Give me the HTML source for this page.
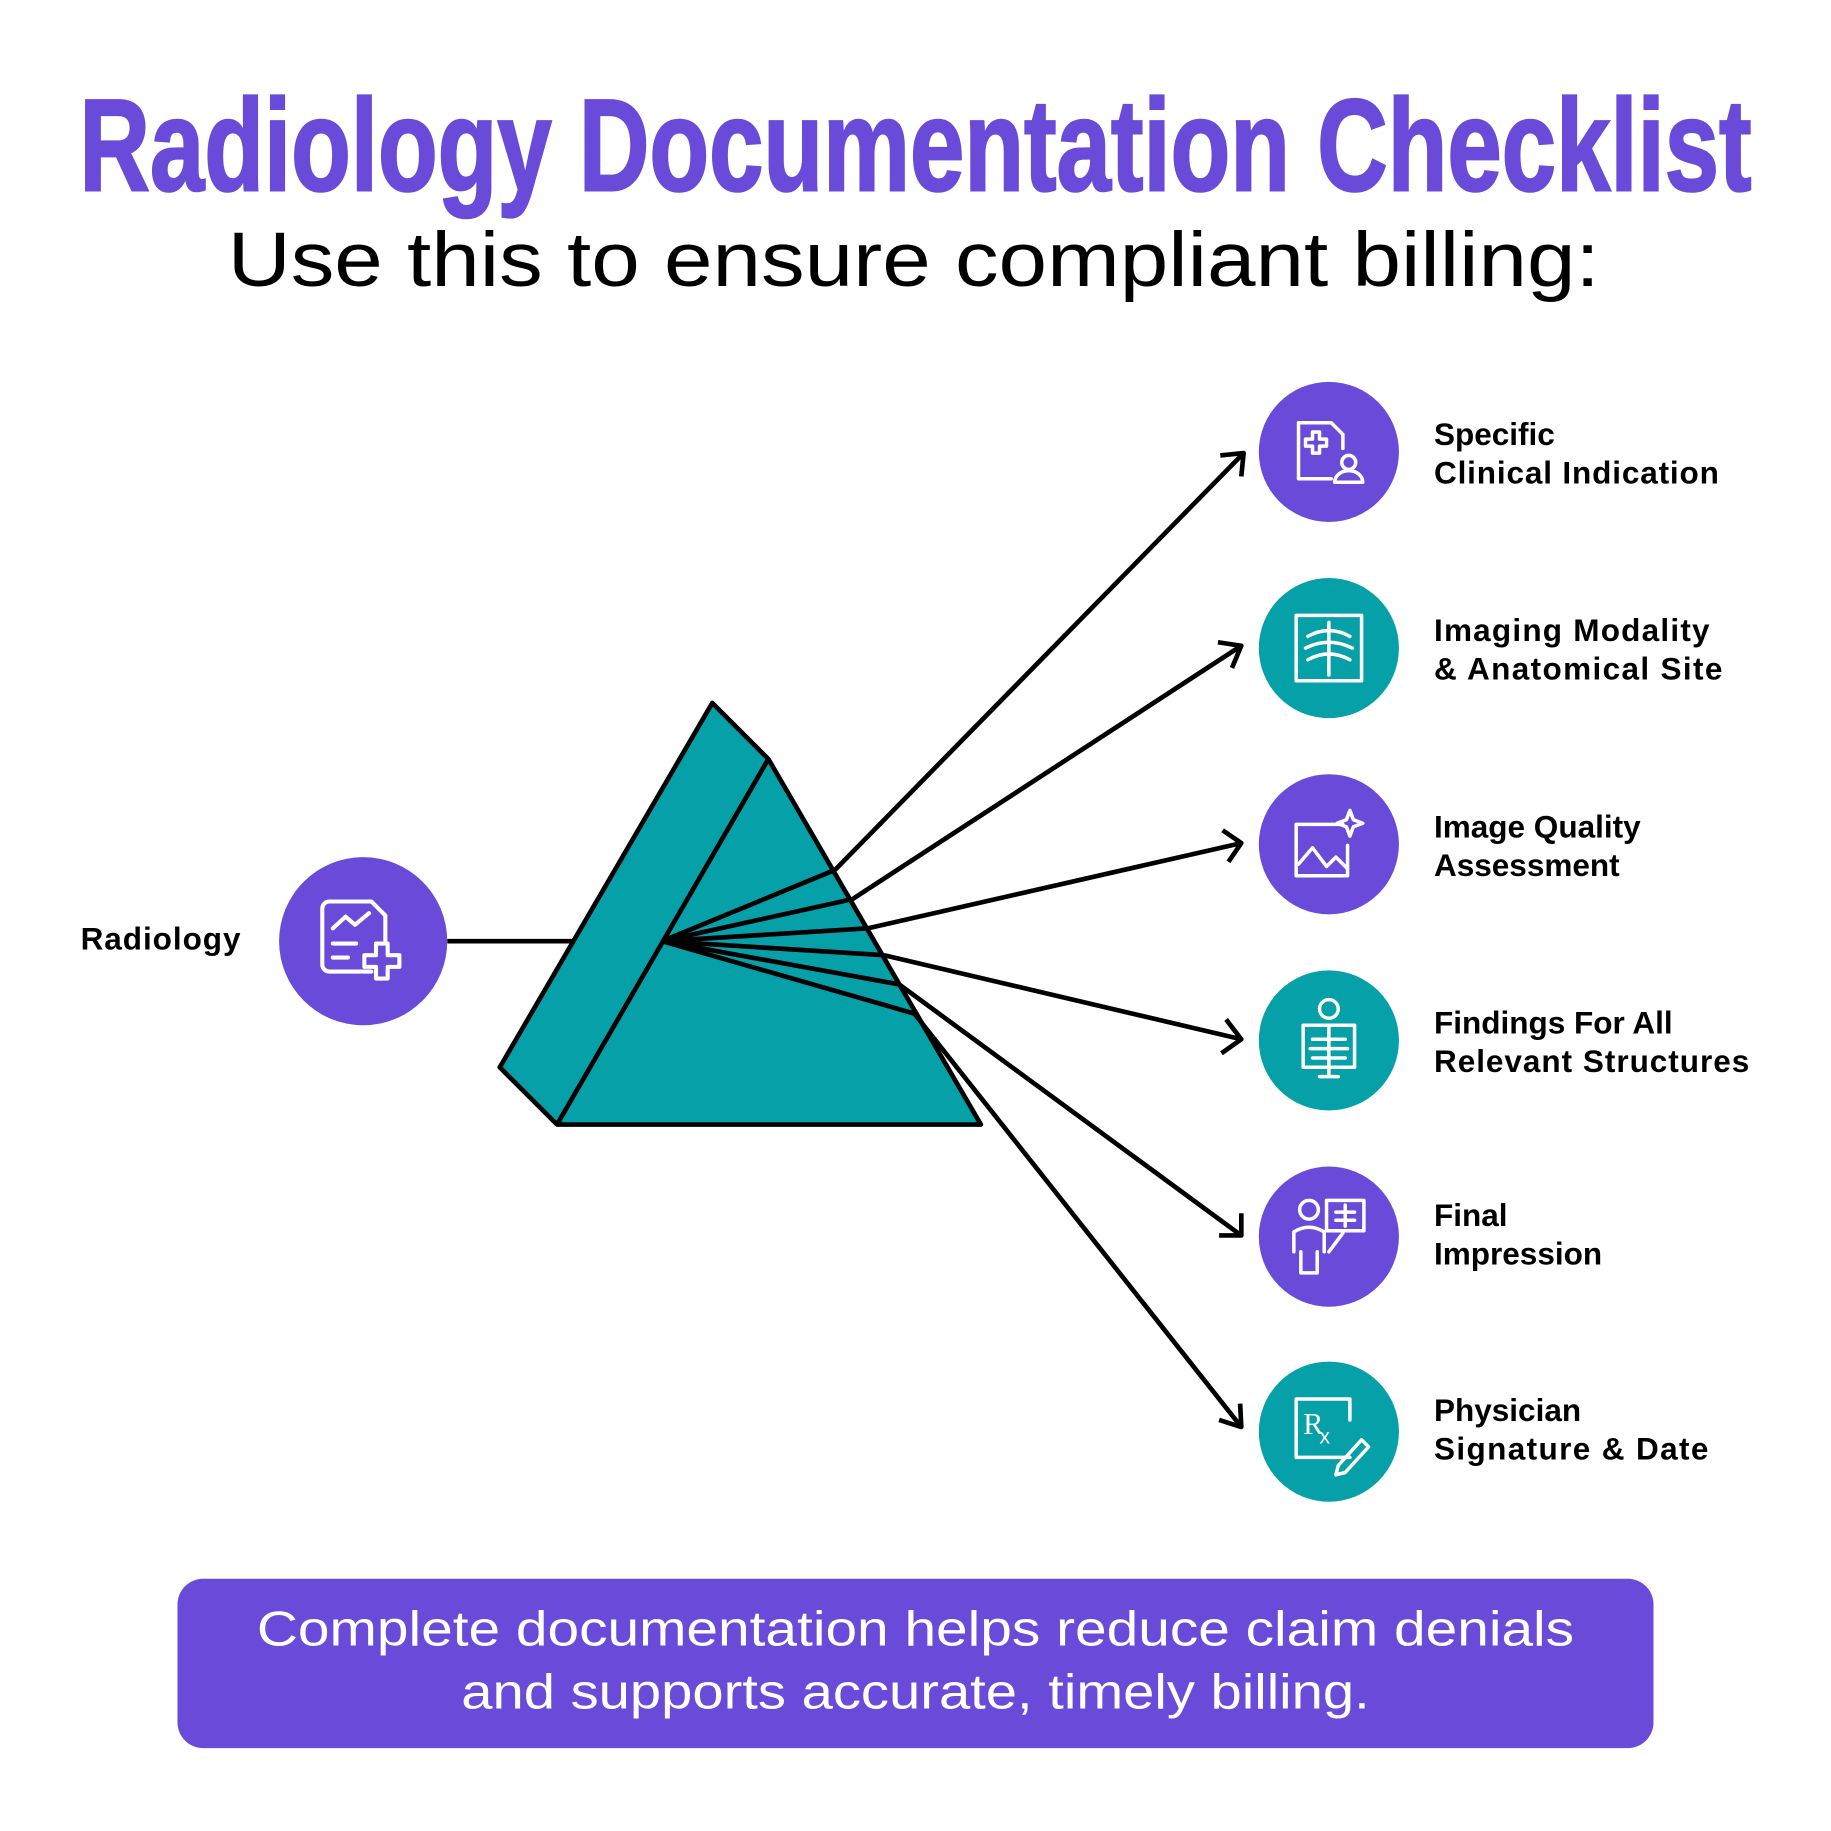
<!DOCTYPE html>
<html><head><meta charset="utf-8"><style>html,body{margin:0;padding:0;background:#fff}svg{display:block}</style></head>
<body>
<svg width="1831" height="1831" viewBox="0 0 1568 1568" xmlns="http://www.w3.org/2000/svg" font-family="Liberation Sans, sans-serif">
<rect width="1568" height="1568" fill="#fff"/>
<text x="68" y="163" font-size="112" font-weight="bold" fill="#6a4bd9" stroke="#6a4bd9" stroke-width="2" textLength="1432" lengthAdjust="spacingAndGlyphs">Radiology Documentation Checklist</text>
<text x="195" y="245" font-size="66" fill="#000" textLength="1175" lengthAdjust="spacingAndGlyphs">Use this to ensure compliant billing:</text>

<g stroke="#000" stroke-width="4" stroke-linejoin="round" fill="none">
<line x1="383" y1="806" x2="567" y2="806"/>
<polygon points="610,602 658,650 840,963 477,963 428,914" fill="#05a0a8"/>
<line x1="658" y1="650" x2="477" y2="963"/>
<line x1="567" y1="806" x2="715" y2="745"/>
<line x1="567" y1="806" x2="730" y2="770"/>
<line x1="567" y1="806" x2="743" y2="795"/>
<line x1="567" y1="806" x2="757" y2="818"/>
<line x1="567" y1="806" x2="770" y2="843"/>
<line x1="567" y1="806" x2="783" y2="868"/>
<line x1="715" y1="745" x2="1065" y2="388"/>
<line x1="730" y1="770" x2="1063" y2="553"/>
<line x1="743" y1="795" x2="1063" y2="722"/>
<line x1="757" y1="818" x2="1063" y2="890"/>
<line x1="770" y1="843" x2="1063" y2="1058"/>
<line x1="783" y1="868" x2="1063" y2="1222"/>
<polyline points="1045,390 1065,388 1063,408"/>
<polyline points="1043,550 1063,553 1055,572"/>
<polyline points="1047,711 1063,722 1052,738"/>
<polyline points="1050,873 1063,890 1046,902"/>
<polyline points="1063,1039 1063,1058 1044,1058"/>
<polyline points="1062,1202 1063,1222 1044,1216"/>
</g>

<circle cx="311" cy="806" r="72" fill="#6a4bd9"/>
<g stroke="#fff" stroke-width="3.5" fill="none" stroke-linecap="round" stroke-linejoin="round">
<path d="M318,832 H282 a6,6 0 0 1 -6,-6 V778 a6,6 0 0 1 6,-6 H318 l12,12 V806"/>
<polyline points="285,795 296,785 304,792 316,782"/>
<line x1="285" y1="808" x2="305" y2="808"/><line x1="285" y1="820" x2="298" y2="820"/>
<path d="M322,808 h10 v10 h10 v10 h-10 v10 h-10 v-10 h-10 v-10 h10 z"/>
</g>

<circle cx="1138" cy="387" r="60" fill="#6a4bd9"/>
<circle cx="1138" cy="555" r="60" fill="#05a0a8"/>
<circle cx="1138" cy="723" r="60" fill="#6a4bd9"/>
<circle cx="1138" cy="891" r="60" fill="#05a0a8"/>
<circle cx="1138" cy="1059" r="60" fill="#6a4bd9"/>
<circle cx="1138" cy="1226" r="60" fill="#05a0a8"/>

<g stroke="#fff" stroke-width="3" fill="none" stroke-linecap="round" stroke-linejoin="round">
<path d="M1140,410 H1112 V362 H1140 l10,10 V384"/><path d="M1124,370 h6 v6 h6 v6 h-6 v6 h-6 v-6 h-6 v-6 h6 z"/>
<circle cx="1155" cy="396" r="6"/><path d="M1143,413 a12,10 0 0 1 24,0 z"/>
<rect x="1110" y="527" width="56" height="56"/><line x1="1138" y1="533" x2="1138" y2="578"/>
<path d="M1120,545 q18,-10 36,0 M1118,555 q20,-10 40,0 M1120,565 q18,-10 36,0"/>
<path d="M1150,706 H1110 V750 H1154 V724"/><polyline points="1112,740 1124,726 1136,742 1144,734 1154,744"/>
<path d="M1156,694 l3,8 8,3 -8,3 -3,8 -3,-8 -8,-3 8,-3 z"/>
<circle cx="1138" cy="864" r="8"/><rect x="1116" y="878" width="44" height="36"/><line x1="1138" y1="880" x2="1138" y2="920"/>
<path d="M1124,890 h28 M1122,898 h32 M1124,906 h28 M1130,922 h16"/>
<circle cx="1121" cy="1036" r="8"/><path d="M1108,1072 V1055 q13,-8 26,0 V1072 M1114,1072 v18 h14 v-18"/>
<rect x="1136" y="1028" width="32" height="26"/><path d="M1152,1032 v18 M1144,1038 h16 M1144,1045 h16 M1150,1056 l-12,16"/>
<path d="M1156,1248 H1110 V1198 H1156 V1216"/>
<path d="M1146,1255 l20,-22 6,6 -20,22 -8,2 z"/>
</g>
<text x="1116" y="1228" font-size="26" fill="#fff" font-family="Liberation Serif, serif">R</text><text x="1130" y="1236" font-size="18" fill="#fff">x</text>

<g font-size="27" font-weight="bold" fill="#000">
<text x="69" y="813" textLength="137">Radiology</text>
<text x="1228" y="381">Specific</text><text x="1228" y="414" textLength="244">Clinical Indication</text>
<text x="1228" y="549" textLength="236">Imaging Modality</text><text x="1228" y="582" textLength="247">&amp; Anatomical Site</text>
<text x="1228" y="717">Image Quality</text><text x="1228" y="750">Assessment</text>
<text x="1228" y="885">Findings For All</text><text x="1228" y="918" textLength="270">Relevant Structures</text>
<text x="1228" y="1050">Final</text><text x="1228" y="1083">Impression</text>
<text x="1228" y="1217">Physician</text><text x="1228" y="1250" textLength="235">Signature &amp; Date</text>
</g>

<rect x="152" y="1352" width="1264" height="145" rx="22" fill="#6a4bd9"/>
<g font-size="42" fill="#fff">
<text x="220" y="1409" textLength="1128" lengthAdjust="spacingAndGlyphs">Complete documentation helps reduce claim denials</text>
<text x="395" y="1463" textLength="778" lengthAdjust="spacingAndGlyphs">and supports accurate, timely billing.</text>
</g>
</svg>
</body></html>
